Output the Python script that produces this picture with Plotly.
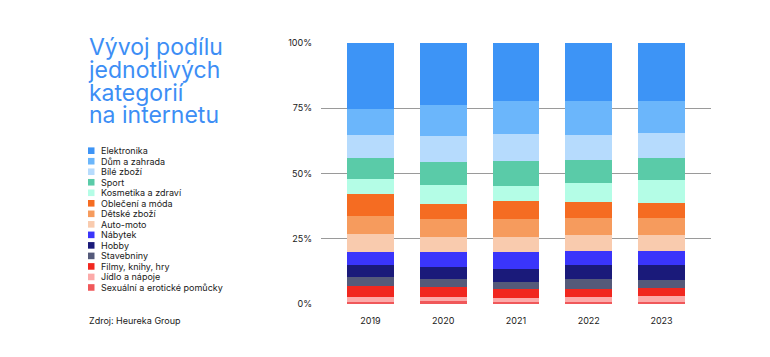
import plotly.graph_objects as go

years = ["2019", "2020", "2021", "2022", "2023"]

# stacking order: bottom -> top
categories = [
    "Sexuální a erotické pomůcky",
    "Jídlo a nápoje",
    "Filmy, knihy, hry",
    "Stavebniny",
    "Hobby",
    "Nábytek",
    "Auto-moto",
    "Dětské zboží",
    "Oblečení a móda",
    "Kosmetika a zdraví",
    "Sport",
    "Bílé zboží",
    "Dům a zahrada",
    "Elektronika",
]

sexualni   = [0.9, 1.0, 0.9, 0.9, 0.9]
jidlo      = [1.8, 1.7, 1.4, 1.9, 2.2]
filmy      = [4.3, 3.7, 3.4, 2.9, 2.9]
stavebniny = [3.3, 3.2, 2.8, 3.7, 3.3]
hobby      = [4.6, 4.6, 5.1, 5.4, 5.6]
nabytek    = [5.0, 5.7, 6.4, 5.6, 5.5]
auto_moto  = [6.9, 5.6, 5.6, 6.0, 6.0]
detske     = [6.9, 6.9, 7.0, 6.4, 6.4]
obleceni   = [8.4, 6.1, 6.7, 6.4, 6.0]
kosmetika  = [5.7, 7.0, 6.0, 7.1, 8.6]
sport      = [8.2, 8.8, 9.6, 8.8, 8.7]
bile       = [8.9, 10.0, 10.2, 9.8, 9.6]
dum        = [9.8, 12.0, 12.8, 12.8, 12.0]
elektronika = [25.3, 23.7, 22.1, 22.3, 22.3]

series = [sexualni, jidlo, filmy, stavebniny, hobby, nabytek, auto_moto,
          detske, obleceni, kosmetika, sport, bile, dum, elektronika]

colors = [
    "#f0585a", "#fcaaa9", "#f1271f", "#555a7a", "#1a1a7a", "#3a35fb",
    "#f9cbae", "#f69b5d", "#f56c22", "#b4fde6", "#5acba8", "#b6dbfd",
    "#6bb6fb", "#3d94f6",
]

y_ticks = [0, 25, 50, 75, 100]
y_tick_labels = ["0%", "25%", "50%", "75%", "100%"]

title_lines = ["Vývoj podílu", "jednotlivých", "kategorií", "na internetu"]

fig = go.Figure()
for name, vals, col in zip(categories, series, colors):
    fig.add_trace(go.Bar(
        x=years, y=vals, name=name, marker=dict(color=col, line=dict(width=0)),
        width=0.645, showlegend=False,
    ))

# window-pixel positions of the plot area
PL, PR, PT, PB = 321, 711, 43, 304
PW, PH = PR - PL, PB - PT

def px(x):
    return (x - PL) / PW

def py(y):
    return (PB - y) / PH

# manual legend (top -> bottom = reverse of stacking)
leg_top = 150.7
leg_step = 10.52
for i, (name, col) in enumerate(zip(categories[::-1], colors[::-1])):
    yc = leg_top + i * leg_step
    fig.add_shape(type="rect", xref="paper", yref="paper",
                  x0=px(88), x1=px(94.5), y0=py(yc + 3.3), y1=py(yc - 3.3),
                  fillcolor=col, line=dict(width=0))
    fig.add_annotation(text=name, xref="paper", yref="paper",
                       x=px(99), y=py(yc),
                       xanchor="left", yanchor="middle", showarrow=False,
                       font=dict(family="Inter", size=9, color="#1a1a1a"))

# title: one text, tight leading (line spacing = 1.3 * base font size)
title_text = "<br>".join(
    "<span style='font-size:23px'>%s</span>" % line for line in title_lines)
fig.add_annotation(text=title_text, xref="paper", yref="paper",
                   x=px(86), y=py(31), align="left",
                   xanchor="left", yanchor="top", showarrow=False,
                   font=dict(family="Inter", size=17.5, color="#3d8ef5"))

fig.add_annotation(text="Zdroj: Heureka Group", xref="paper", yref="paper",
                   x=px(87), y=py(320),
                   xanchor="left", yanchor="middle", showarrow=False,
                   font=dict(family="Inter", size=9, color="#1a1a1a"))

W, H = 762, 349
OFF = 8  # default page body margin
fig.update_layout(
    width=W, height=H,
    margin=dict(l=PL - OFF, r=W - (PR - OFF), t=PT - OFF, b=H - (PB - OFF)),
    barmode="stack",
    plot_bgcolor="white", paper_bgcolor="white",
    xaxis=dict(type="category", range=[-0.68, 4.68], showgrid=False,
               showline=False, ticks="", ticklabelstandoff=10,
               tickfont=dict(family="Inter", size=9, color="#1a1a1a")),
    yaxis=dict(range=[0, 100], tickvals=y_ticks, ticktext=y_tick_labels,
               showgrid=True, gridcolor="#9a9a9a", gridwidth=1, zeroline=False,
               showline=False, ticks="", ticklabelstandoff=8,
               tickfont=dict(family="Inter", size=9, color="#1a1a1a")),
)

fig.write_html("out.html")
